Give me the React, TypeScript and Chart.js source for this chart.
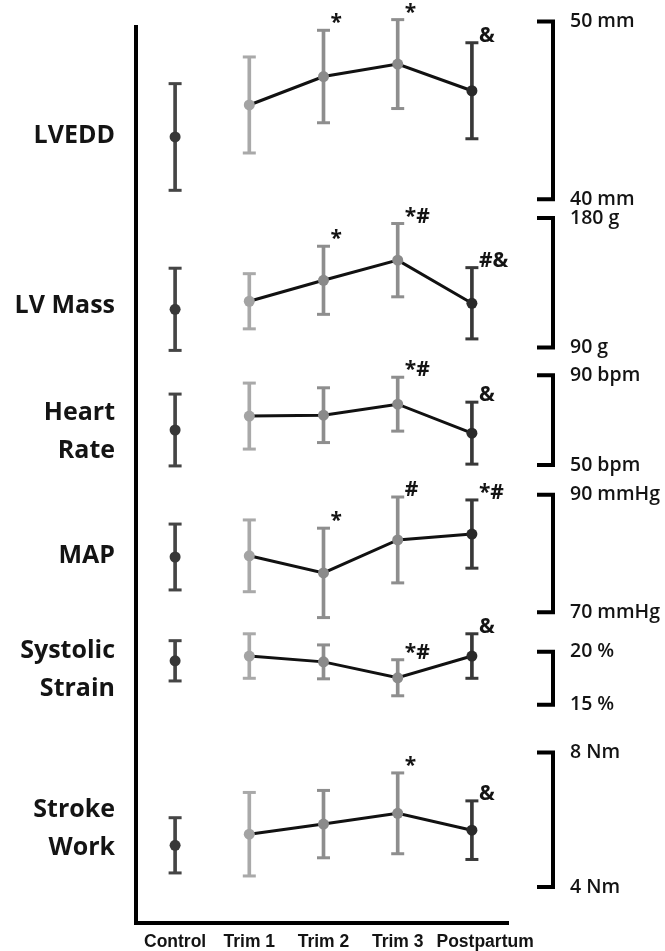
import React, { useEffect, useRef } from 'react';
import { Chart, registerables } from 'chart.js';

Chart.register(...registerables);

// ---------- data ----------
const CATEGORIES = ['Control', 'Trim 1', 'Trim 2', 'Trim 3', 'Postpartum'];

const LVEDD_MEAN = [43.5, 45.3, 46.9, 47.6, 46.1];
const LVEDD_SD = [3.0, 2.7, 2.6, 2.5, 2.7];
const LVMASS_MEAN = [116.5, 122.1, 136.7, 150.7, 120.7];
const LVMASS_SD = [28.6, 19.2, 23.7, 25.5, 24.8];
const HR_MEAN = [65.6, 71.8, 72.2, 77.1, 64.2];
const HR_SD = [16.0, 14.7, 12.2, 12.0, 13.8];
const MAP_MEAN = [79.4, 79.6, 76.7, 82.3, 83.3];
const MAP_SD = [5.6, 6.1, 7.6, 7.3, 5.8];
const STRAIN_MEAN = [19.15, 19.6, 19.05, 17.55, 19.6];
const STRAIN_SD = [1.9, 2.1, 1.6, 1.7, 2.1];
const SW_MEAN = [5.24, 5.57, 5.87, 6.19, 5.69];
const SW_SD = [0.82, 1.24, 1.0, 1.2, 0.87];

const LVEDD_MARKS = ['', '', '*', '*', '&'];
const LVMASS_MARKS = ['', '', '*', '*#', '#&'];
const HR_MARKS = ['', '', '', '*#', '&'];
const MAP_MARKS = ['', '', '*', '#', '*#'];
const STRAIN_MARKS = ['', '', '', '*#', '&'];
const SW_MARKS = ['', '', '', '*', '&'];

const PANEL_NAMES = [['LVEDD'], ['LV Mass'], ['Heart', 'Rate'], ['MAP'], ['Systolic', 'Strain'], ['Stroke', 'Work']];
const BRACKET_LOW = [40, 90, 50, 70, 15, 4];
const BRACKET_HIGH = [50, 180, 90, 90, 20, 8];
const BRACKET_LABEL_LOW = ['40 mm', '90 g', '50 bpm', '70 mmHg', '15 %', '4 Nm'];
const BRACKET_LABEL_HIGH = ['50 mm', '180 g', '90 bpm', '90 mmHg', '20 %', '8 Nm'];

// ---------- layout / style ----------
const PANEL_FRAC = [[-0.004, 0.194], [0.215, 0.359], [0.39, 0.49], [0.523, 0.654], [0.698, 0.757], [0.81, 0.96]];
const LABEL_FRAC = [0.124, 0.313, 0.453, 0.591, 0.718, 0.895];
const WHISKER_COLORS = ['#454545', '#a9a9a9', '#8e8e8e', '#8e8e8e', '#383838'];
const POINT_COLORS = ['#383838', '#a3a3a3', '#8a8a8a', '#8a8a8a', '#2a2a2a'];
const TEXT = '#141414';

const MEANS = [LVEDD_MEAN, LVMASS_MEAN, HR_MEAN, MAP_MEAN, STRAIN_MEAN, SW_MEAN];
const SDS = [LVEDD_SD, LVMASS_SD, HR_SD, MAP_SD, STRAIN_SD, SW_SD];
const MARKS = [LVEDD_MARKS, LVMASS_MARKS, HR_MARKS, MAP_MARKS, STRAIN_MARKS, SW_MARKS];

function scaleRange(p: number) {
  const [a, b] = PANEL_FRAC[p];
  const hi = BRACKET_HIGH[p];
  const lo = BRACKET_LOW[p];
  const R = (hi - lo) / (b - a);
  const max = hi + a * R;
  return { min: max - R, max };
}

const decorPlugin = {
  id: 'decor',
  afterDatasetsDraw(chart: any) {
    const { ctx, chartArea } = chart;
    const { left, right, top, bottom } = chartArea;
    const xs = chart.scales.x;
    ctx.save();
    ctx.strokeStyle = '#000';
    ctx.lineCap = 'butt';
    ctx.lineJoin = 'miter';
    // axes
    ctx.lineWidth = 4;
    ctx.beginPath();
    ctx.moveTo(left - 2, top);
    ctx.lineTo(left - 2, bottom + 2);
    ctx.moveTo(left - 4, bottom);
    ctx.lineTo(right, bottom);
    ctx.stroke();

    // x labels
    ctx.fillStyle = TEXT;
    ctx.font = 'bold 17.5px "Liberation Sans", Arial, sans-serif';
    ctx.textAlign = 'left';
    ctx.textBaseline = 'alphabetic';
    let prevRight = -Infinity;
    CATEGORIES.forEach((c, i) => {
      const w = ctx.measureText(c).width;
      let x0 = xs.getPixelForValue(i) - w / 2;
      if (x0 < prevRight + 13) x0 = prevRight + 13;
      ctx.fillText(c, x0, bottom + 24);
      prevRight = x0 + w;
    });

    for (let p = 0; p < 6; p++) {
      const ys = chart.scales['y' + p];
      // bracket
      const yh = ys.getPixelForValue(BRACKET_HIGH[p]);
      const yl = ys.getPixelForValue(BRACKET_LOW[p]);
      const bx = right + 44;
      ctx.lineWidth = 4;
      ctx.beginPath();
      ctx.moveTo(bx - 16, yh);
      ctx.lineTo(bx, yh);
      ctx.lineTo(bx, yl);
      ctx.lineTo(bx - 16, yl);
      ctx.stroke();
      ctx.font = '600 19.5px "Open Sans", sans-serif';
      ctx.textAlign = 'left';
      ctx.textBaseline = 'middle';
      ctx.fillText(BRACKET_LABEL_HIGH[p], bx + 17, yh);
      ctx.fillText(BRACKET_LABEL_LOW[p], bx + 17, yl);

      // panel name
      ctx.font = 'bold 25px "Open Sans", sans-serif';
      ctx.textAlign = 'right';
      const lines = PANEL_NAMES[p];
      const cy = top + LABEL_FRAC[p] * (bottom - top);
      const lh = 38;
      lines.forEach((ln, k) => {
        ctx.fillText(ln, left - 23, cy + (k - (lines.length - 1) / 2) * lh);
      });

      // significance marks
      ctx.font = 'bold 21px "Open Sans", sans-serif';
      ctx.textAlign = 'left';
      ctx.textBaseline = 'alphabetic';
      MARKS[p].forEach((m, i) => {
        if (!m) return;
        const xt = xs.getPixelForValue(i);
        const yt = ys.getPixelForValue(MEANS[p][i] + SDS[p][i]);
        ctx.fillText(m, xt + 7, yt - 1);
      });
    }
    ctx.restore();
  },
};

export default function App() {
  const ref = useRef<HTMLCanvasElement>(null);
  useEffect(() => {
    if (!ref.current) return;
    const datasets: any[] = [];
    const scales: any = {
      x: { type: 'category', labels: CATEGORIES, display: false, offset: true },
    };
    for (let p = 0; p < 6; p++) {
      const id = 'y' + p;
      const { min, max } = scaleRange(p);
      scales[id] = { type: 'linear', display: false, min, max };
      const means = MEANS[p];
      const sds = SDS[p];
      datasets.push({
        type: 'bar',
        yAxisID: id,
        data: means.map((m, i) => [m - sds[i], m + sds[i]]),
        backgroundColor: WHISKER_COLORS,
        borderWidth: 0,
        barThickness: 3,
        grouped: false,
        clip: false,
        order: 3,
      });
      const caps: any[] = [];
      const capColors: string[] = [];
      means.forEach((m, i) => {
        caps.push({ x: CATEGORIES[i], y: m - sds[i] });
        caps.push({ x: CATEGORIES[i], y: m + sds[i] });
        capColors.push(WHISKER_COLORS[i], WHISKER_COLORS[i]);
      });
      datasets.push({
        type: 'line',
        yAxisID: id,
        data: caps,
        showLine: false,
        pointStyle: 'line',
        pointRadius: 6.5,
        pointHoverRadius: 6.5,
        pointBorderWidth: 3,
        pointBorderColor: capColors,
        clip: false,
        order: 2,
      });
      datasets.push({
        type: 'line',
        yAxisID: id,
        data: means,
        borderColor: '#111',
        borderWidth: 3,
        segment: {
          borderColor: (c: any) => (c.p0DataIndex === 0 ? 'rgba(0,0,0,0)' : '#111'),
        },
        pointRadius: 5.5,
        pointHoverRadius: 5.5,
        pointBorderWidth: 0,
        pointBackgroundColor: POINT_COLORS,
        pointBorderColor: POINT_COLORS,
        tension: 0,
        clip: false,
        order: 1,
      });
    }
    const chart = new Chart(ref.current, {
      type: 'bar',
      data: { labels: CATEGORIES, datasets },
      options: {
        animation: false,
        responsive: false,
        maintainAspectRatio: false,
        events: [],
        layout: { padding: { left: 138, right: 156, top: 25, bottom: 28 } },
        plugins: { legend: { display: false }, tooltip: { enabled: false } },
        scales,
      },
      plugins: [decorPlugin],
    } as any);
    return () => chart.destroy();
  }, []);
  return (
    <div style={{ position: 'fixed', left: 0, top: 0, width: 665, height: 951, background: '#fff' }}>
      <canvas ref={ref} width={665} height={951} style={{ display: 'block', width: 665, height: 951 }} />
    </div>
  );
}
